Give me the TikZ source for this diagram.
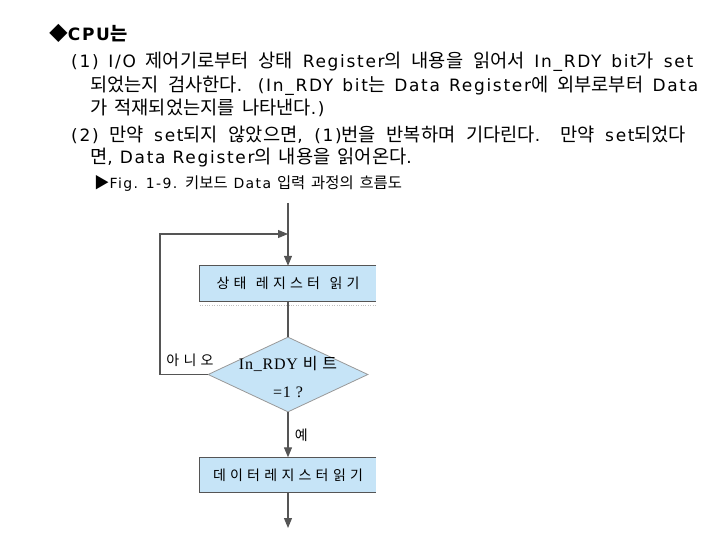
\documentclass[tikz,border=0pt]{standalone}
\usepackage{fontspec}
\usetikzlibrary{shapes.geometric,arrows.meta}
\setmainfont{DejaVu Sans}[LetterSpace=10]
\newfontfamily\serifl{Liberation Serif}[LetterSpace=5]
\newfontfamily\krfont{Noto Sans CJK KR}[Scale=1.1]
\newfontfamily\krwide{Noto Sans CJK KR}[LetterSpace=30]
\newcommand\latinfont{\rmfamily}
% Hangul (and the two marks) switch to the Korean font
\XeTeXinterchartokenstate=1
\newXeTeXintercharclass\krclass
\newcount\krcode
\krcode="AC00
\loop
  \XeTeXcharclass\krcode=\krclass
  \ifnum\krcode<"D7A3 \advance\krcode by 1
\repeat
\XeTeXcharclass"25C6=\krclass
\XeTeXcharclass"25B6=\krclass
\newcount\krother
\krother=0
\loop
  \ifnum\krother=\krclass\else
    \XeTeXinterchartoks\krother\krclass={\krfont}
    \XeTeXinterchartoks\krclass\krother={\latinfont}
  \fi
  \ifnum\krother<3 \advance\krother by 1
\repeat
\XeTeXinterchartoks 4095 \krclass={\krfont}
\XeTeXinterchartoks \krclass 4095={\latinfont}
\XeTeXinterchartoks \krclass \krclass={}
\definecolor{boxblue}{HTML}{C6E4F7}
\definecolor{lnclr}{HTML}{555555}
\begin{document}
\begin{tikzpicture}[
    x=1pt,y=-1pt,
    txt/.style={anchor=base west,inner sep=0pt,font=\fontsize{17}{20}\selectfont},
    figcap/.style={anchor=base west,inner sep=0pt,font=\fontsize{14}{18}\selectfont},
    flow/.style={font={\let\krfont\krwide\let\latinfont\serifl\serifl\fontsize{14}{17}\selectfont}},
    lne/.style={draw=lnclr,line width=1.1pt},
    arr/.style={lne,-{Triangle[length=10pt,width=8pt]}},
    box/.style={flow,fill=boxblue,minimum width=176pt,minimum height=35pt,inner sep=0pt},
    dia/.style={diamond,fill=boxblue,draw=black!40,line width=0.8pt,
        minimum width=160pt,minimum height=75pt,inner sep=0pt}
]
\useasboundingbox (0,0) rectangle (720,540);

% text
\node[txt,font=\bfseries\fontsize{17}{20}\selectfont] (title) at (49,41) {◆CPU는};
\node[txt] (l1) at (71,68) {\makebox[622pt][s]{(1) I/O 제어기로부터 상태 Register의 내용을 읽어서 In\_RDY bit가 set}};
\node[txt] (l2) at (90,92) {\makebox[608pt][s]{되었는지 검사한다. (In\_RDY bit는 Data Register에 외부로부터 Data}};
\node[txt] (l3) at (90,115) {가 적재되었는지를 나타낸다.)};
\node[txt] (l4) at (71,142) {\makebox[615pt][s]{(2) 만약 set되지 않았으면, (1)번을 반복하며 기다린다. 만약 set되었다}};
\node[txt] (l5) at (90,164) {면, Data Register의 내용을 읽어온다.};
\node[figcap] (fig) at (94,189) {▶Fig. 1-9. 키보드 Data 입력 과정의 흐름도};

% flowchart
\coordinate (start) at (288,203);
\coordinate (join) at (288,234);
\coordinate (loopc) at (160,374.5);
\coordinate (stop) at (288,528);
\node[box] (b1) at (288,283.5) {\makebox[143pt][s]{상태 레지스터 읽기}};
\node[dia] (dec) at (288,374.5) {};
\node[flow,align=center,font={\let\krfont\krwide\let\latinfont\serifl\serifl\fontsize{16}{28}\selectfont}] (dectxt) at (288,377) {In\_RDY 비트\\=1 ?};
\node[box] (b2) at (288,475) {\makebox[150pt][s]{데이터 레지스터 읽기}};

\draw[lne] (b1.north east) -- (b1.north west) -- (b1.south west) -- (b1.south east);
\draw[lne] (b2.north east) -- (b2.north west) -- (b2.south west) -- (b2.south east);
\draw[dotted,black!25] ([yshift=-4pt]b1.south west) -- ([yshift=-4pt]b1.south east);

\draw[arr] (start) -- (b1.north);
\draw[lne] (b1) -- (dec);
\draw[arr] (dec.west) -- (loopc) |- (join);
\draw[arr] (dec) -- (b2) node[flow,midway,right=3pt] (yes) {예};
\draw[arr] (b2) -- (stop);
\node[flow,anchor=south] (no) at (190,370) {아니오};

\end{tikzpicture}
\end{document}
